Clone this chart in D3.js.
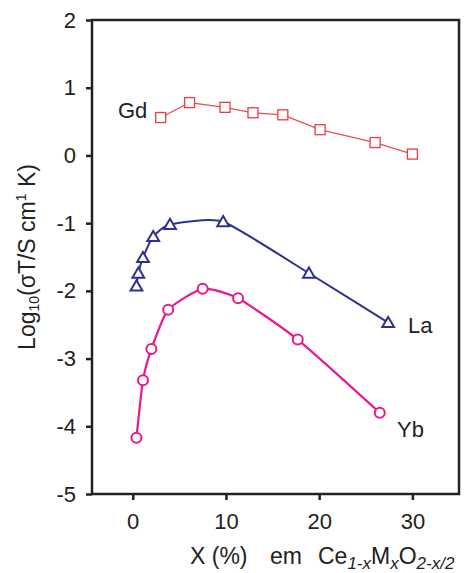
<!DOCTYPE html>
<html>
<head>
<meta charset="utf-8">
<script src="https://cdn.jsdelivr.net/npm/d3@7"></script>
<style>
  body { margin: 0; background: #fff; }
  text { font-family: "Liberation Sans", Arial, sans-serif; fill: #222; }
</style>
</head>
<body>
<div id="chart"></div>
<script>
// values
var gdX = [3, 6.1, 9.9, 12.9, 16.1, 20.1, 26, 30];
var gdY = [0.56, 0.78, 0.71, 0.63, 0.60, 0.38, 0.19, 0.02];

var laX = [0.4, 0.6, 1.1, 2.2, 4.0, 9.7, 18.9, 27.4];
var laY = [-1.93, -1.74, -1.51, -1.20, -1.02, -0.98, -1.74, -2.47];

var ybX = [0.4, 1.1, 2.0, 3.8, 7.5, 11.3, 17.7, 26.5];
var ybY = [-4.17, -3.32, -2.86, -2.28, -1.97, -2.11, -2.72, -3.80];

var xTicks = [0, 10, 20, 30];
var yTicks = [2, 1, 0, -1, -2, -3, -4, -5];

var w = 470, h = 573;
var plotL = 92, plotR = 459, plotT = 20, plotB = 494;

var svg = d3.select("#chart").append("svg")
    .attr("width", w).attr("height", h);

var x = d3.scaleLinear().domain([-4.37, 35]).range([plotL, plotR]);
var y = d3.scaleLinear().domain([-5, 2]).range([plotB, plotT]);

function pts(xs, ys) {
    return xs.map(function (d, i) { return [d, ys[i]]; });
}

// axes (plain hyphen for negatives, like the original)
var xAxis = svg.append("g")
    .attr("transform", "translate(0," + plotB + ")")
    .call(d3.axisBottom(x).tickValues(xTicks).tickSize(6).tickSizeOuter(0).tickPadding(13)
          .tickFormat(function (d) { return String(d); }));
var yAxis = svg.append("g")
    .attr("transform", "translate(" + plotL + ",0)")
    .call(d3.axisLeft(y).tickValues(yTicks).tickSize(6).tickSizeOuter(0).tickPadding(10)
          .tickFormat(function (d) { return String(d); }));
[xAxis, yAxis].forEach(function (g) {
    g.select(".domain").remove();
    g.selectAll(".tick line").attr("stroke", "#222").attr("stroke-width", 2.5);
    g.selectAll(".tick text").style("font-size", "22px").attr("fill", "#222");
});

// frame
svg.append("rect")
    .attr("x", plotL).attr("y", plotT)
    .attr("width", plotR - plotL).attr("height", plotB - plotT)
    .attr("fill", "none").attr("stroke", "#222").attr("stroke-width", 2.5);

var lineStraight = d3.line()
    .x(function (d) { return x(d[0]); })
    .y(function (d) { return y(d[1]); });
var lineSmooth = d3.line()
    .x(function (d) { return x(d[0]); })
    .y(function (d) { return y(d[1]); })
    .curve(d3.curveCardinal.tension(0.45));

// Gd
var gd = pts(gdX, gdY);
svg.append("path").datum(gd).attr("d", lineStraight)
    .attr("fill", "none").attr("stroke", "#ee4b55").attr("stroke-width", 1.3);
svg.selectAll(".gd").data(gd).enter().append("rect")
    .attr("x", function (d) { return x(d[0]) - 5; })
    .attr("y", function (d) { return y(d[1]) - 5; })
    .attr("width", 10).attr("height", 10)
    .attr("fill", "#fff").attr("stroke", "#ee3b45").attr("stroke-width", 1.3);

// La
var la = pts(laX, laY);
svg.append("path").datum(la).attr("d", lineSmooth)
    .attr("fill", "none").attr("stroke", "#2e3192").attr("stroke-width", 2);
var tri = d3.symbol().type(d3.symbolTriangle).size(60);
svg.selectAll(".la").data(la).enter().append("path")
    .attr("d", tri)
    .attr("transform", function (d) { return "translate(" + x(d[0]) + "," + (y(d[1]) + 1) + ")"; })
    .attr("fill", "#fff").attr("stroke", "#2e3192").attr("stroke-width", 2);

// Yb
var yb = pts(ybX, ybY);
svg.append("path").datum(yb).attr("d", lineSmooth)
    .attr("fill", "none").attr("stroke", "#e8198b").attr("stroke-width", 2.2);
svg.selectAll(".yb").data(yb).enter().append("circle")
    .attr("cx", function (d) { return x(d[0]); })
    .attr("cy", function (d) { return y(d[1]); })
    .attr("r", 5)
    .attr("fill", "#fff").attr("stroke", "#e8198b").attr("stroke-width", 2);

// series labels
svg.append("text").attr("x", 118).attr("y", 118).style("font-size", "22px").text("Gd");
svg.append("text").attr("x", 408).attr("y", 333).style("font-size", "22px").text("La");
svg.append("text").attr("x", 397).attr("y", 437).style("font-size", "22px").text("Yb");

// y title
var yt = svg.append("text")
    .attr("transform", "translate(35,257) rotate(-90)")
    .attr("text-anchor", "middle")
    .style("font-size", "23px");
yt.append("tspan").text("Log");
yt.append("tspan").attr("dy", 4).style("font-size", "14px").text("10");
yt.append("tspan").attr("dy", -4).text("(σT/S cm");
yt.append("tspan").attr("dy", -9).style("font-size", "14px").text("1");
yt.append("tspan").attr("dy", 9).text(" K)");

// x title
var xt = svg.append("text")
    .attr("y", 564)
    .style("font-size", "23px");
xt.append("tspan").attr("x", 190).text("X (%)");
xt.append("tspan").attr("x", 270).text("em");
xt.append("tspan").attr("x", 318).text("Ce");
xt.append("tspan").attr("dy", 5).style("font-style", "italic").style("font-size", "17px").text("1-x");
xt.append("tspan").attr("dy", -5).text("M");
xt.append("tspan").attr("dy", 5).style("font-style", "italic").style("font-size", "17px").text("x");
xt.append("tspan").attr("dy", -5).text("O");
xt.append("tspan").attr("dy", 5).style("font-style", "italic").style("font-size", "17px").text("2-x/2");
</script>
</body>
</html>
